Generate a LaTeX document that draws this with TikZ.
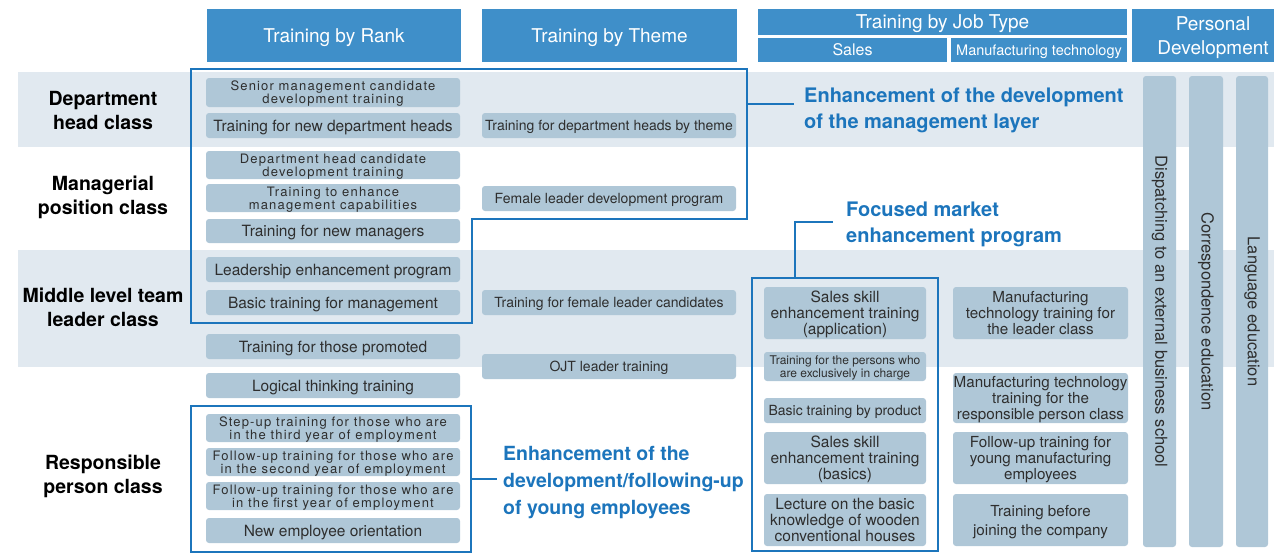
\documentclass[tikz,border=0pt]{standalone}
\usepackage{fontspec}
\setmainfont{TeX Gyre Heros}
\newfontfamily\spacedfont[LetterSpace=9]{TeX Gyre Heros}
\usetikzlibrary{calc}
\definecolor{hdrc}{HTML}{3F8FC9}
\definecolor{bandc}{HTML}{E1E9F0}
\definecolor{boxc}{HTML}{AFC7D7}
\definecolor{linec}{HTML}{1C75BC}
\definecolor{txtc}{HTML}{2E2E2E}
\newcommand\fsz[2]{\fontsize{#1}{#2}\selectfont}
\begin{document}
\begin{tikzpicture}[x=1pt,y=-1pt,
  hdr/.style={fill=hdrc,text=white,inner sep=0pt,align=center,text depth=0pt,font=\fsz{19}{24}},
  bxbase/.style={fill=boxc,text=txtc,rounded corners=3pt,inner sep=0pt,align=center,font=\fsz{15.5}{16}},
  bx/.style={bxbase,text depth=0pt},
  bxs/.style={bx,font=\spacedfont\fsz{13}{13}},
  bxt/.style={bx,font=\fsz{14}{16}},
  bx3/.style={bx,font=\fsz{15.5}{16}},
  bxm/.style={bx,font=\fsz{15.2}{16}},
  bar/.style={bxbase,rotate=-90,font=\fsz{16.5}{18}},
  wh/.style 2 args={minimum width=#1pt,minimum height=#2pt},
  rowlab/.style={align=center,font=\bfseries\fsz{19.5}{24},text=black,inner sep=0pt},
  lab/.style={align=left,font=\bfseries\fsz{20}{26},text=linec,inner ysep=0pt,anchor=west},
  outl/.style={draw=linec,line width=2.2pt},
]
\useasboundingbox (0,0) rectangle (1274,554);
\clip (0,0) rectangle (1274,554);
% bands
\fill[bandc] (18,72) rectangle (1274,147);
\fill[bandc] (18,250) rectangle (1274,367);
% headers
\node[hdr,wh={254}{53}] (h1) at (334,35.5) {Training by Rank};
\node[hdr,wh={255}{53}] (h2) at (609.5,35.5) {Training by Theme};
\node[hdr,wh={369}{26}] (h3) at (942.5,22) {Training by Job Type};
\node[hdr,wh={189}{24},font=\fsz{16}{18}] (h3a) at (852.5,50) {Sales};
\node[hdr,wh={176}{24},font=\fsz{14.5}{16}] (h3b) at (1039,50) {Manufacturing technology};
\node[hdr,wh={162}{53}] (h4) at (1213,35.5) {Personal\\Development};
% row labels
\node[rowlab] (l1) at (103,110) {Department\\head class};
\node[rowlab] (l2) at (103,197) {Managerial\\position class};
\node[rowlab] (l3) at (103,307) {Middle level team\\leader class};
\node[rowlab] (l4) at (103,476) {Responsible\\person class};
% rank column
\node[bxs,wh={254}{29}] (r1) at (333,92.5) {Senior management candidate\\development training};
\node[bx,wh={254}{25}] (r2) at (333,125.5) {Training for new department heads};
\node[bxs,wh={254}{28}] (r3) at (333,165) {Department head candidate\\development training};
\node[bxs,wh={254}{28}] (r4) at (333,198) {Training to enhance\\management capabilities};
\node[bx,wh={254}{24}] (r5) at (333,231) {Training for new managers};
\node[bx,wh={254}{25}] (r6) at (333,269.5) {Leadership enhancement program};
\node[bx,wh={254}{25}] (r7) at (333,302.5) {Basic training for management};
\node[bx,wh={254}{25}] (r8) at (333,346.5) {Training for those promoted};
\node[bx,wh={254}{25}] (r9) at (333,385.5) {Logical thinking training};
\node[bxs,wh={254}{28}] (r10) at (333,428) {Step-up training for those who are\\in the third year of employment};
\node[bxs,wh={254}{28}] (r11) at (333,462) {Follow-up training for those who are\\in the second year of employment};
\node[bxs,wh={254}{28}] (r12) at (333,496) {Follow-up training for those who are\\in the first year of employment};
\node[bx,wh={254}{25}] (r13) at (333,530.5) {New employee orientation};
% theme column
\node[bxt,wh={254}{25}] (t1) at (609,125.5) {Training for department heads by theme};
\node[bxt,wh={254}{25}] (t2) at (609,198.5) {Female leader development program};
\node[bxt,wh={254}{25}] (t3) at (609,302.5) {Training for female leader candidates};
\node[bxt,wh={254}{25}] (t4) at (609,366.5) {OJT leader training};
% sales column
\node[bx3,wh={162}{52}] (s1) at (845,313) {Sales skill\\enhancement training\\(application)};
\node[bx,wh={162}{29},font=\fsz{12}{13}] (s2) at (845,366.5) {Training for the persons who\\are exclusively in charge};
\node[bxt,wh={162}{25}] (s3) at (845,410.5) {Basic training by product};
\node[bx3,wh={162}{52}] (s4) at (845,458) {Sales skill\\enhancement training\\(basics)};
\node[bx3,wh={162}{52}] (s5) at (845,520) {Lecture on the basic\\knowledge of wooden\\conventional houses};
% manufacturing column
\node[bxm,wh={175}{52}] (m1) at (1040.5,313) {Manufacturing\\technology training for\\the leader class};
\node[bxm,wh={175}{50}] (m2) at (1040.5,398) {Manufacturing technology\\training for the\\responsible person class};
\node[bxm,wh={175}{52}] (m3) at (1040.5,458) {Follow-up training for\\young manufacturing\\employees};
\node[bxm,wh={175}{52},font=\fsz{15.2}{19}] (m4) at (1040.5,520) {Training before\\joining the company};
% personal development bars
\node[bar,wh={471}{33}] (p1) at (1159.5,311.5) {Dispatching to an external business school};
\node[bar,wh={471}{34}] (p2) at (1206,311.5) {Correspondence education};
\node[bar,wh={471}{32}] (p3) at (1252,311.5) {Language education};
% outline groups
\draw[outl] (191,69) -- (747,69) -- (747,219) -- (472,219) -- (472,323) -- (191,323) -- cycle;
\draw[outl] (191,406) rectangle (471,552);
\draw[outl] (752,278) rectangle (938,551);
% labels and connectors
\coordinate (b1) at (747,104);
\node[lab,inner xsep=10pt] (lab1) at (794,110.5) {Enhancement of the development\\of the management layer};
\draw[outl] (b1) -- (b1 -| lab1.west);
\coordinate (b3) at (795,278);
\node[lab,inner xsep=13pt] (lab2) at (833,224.5) {Focused market\\enhancement program};
\draw[outl] (b3) |- ($(lab2.west)+(0,-2.5)$);
\coordinate (b2) at (471,479);
\node[lab,inner xsep=6pt,font=\bfseries\fsz{19.5}{27}] (lab3) at (497,482.5) {Enhancement of the\\development/following-up\\of young employees};
\draw[outl] (b2) -- (b2 -| lab3.west);
\end{tikzpicture}
\end{document}
